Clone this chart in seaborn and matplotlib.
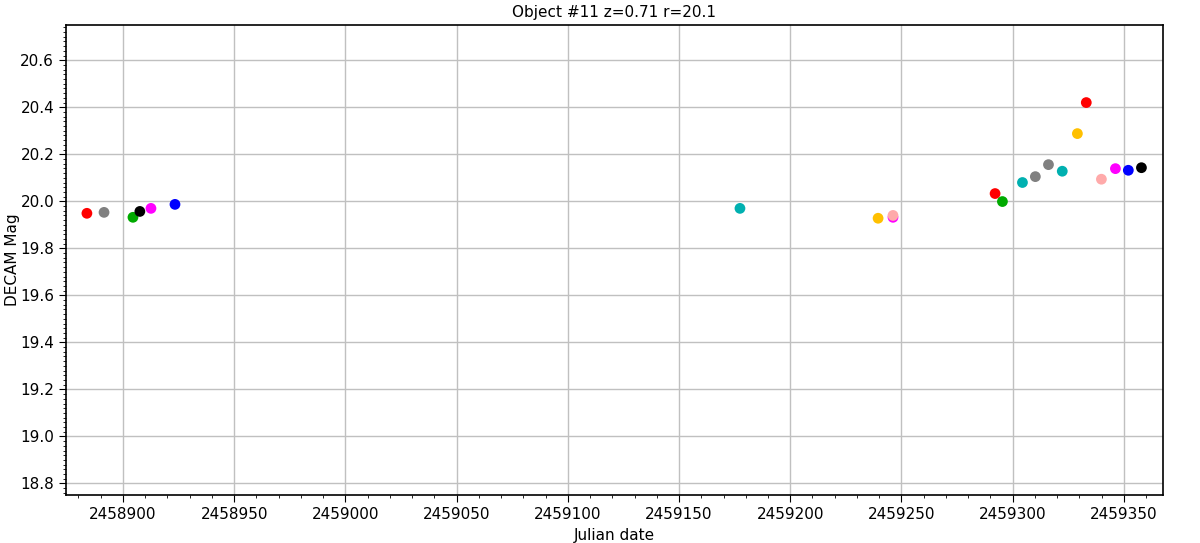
import numpy as np
import pandas as pd
import matplotlib
matplotlib.use("Agg")
import matplotlib.pyplot as plt
from matplotlib.ticker import MultipleLocator
import seaborn as sns

# Fechas julianas y magnitudes
jd = [2458883.8, 2458891.5, 2458904.5, 2458907.6, 2458912.6, 2458923.4,
      2459177.4, 2459239.5, 2459246.2, 2459246.2,
      2459292.1, 2459295.4, 2459304.4, 2459310.2, 2459316.1, 2459322.3,
      2459329.1, 2459333.1, 2459339.9, 2459346.2, 2459352.0, 2459357.9]
mag = [19.949, 19.953, 19.932, 19.957, 19.970, 19.987,
       19.970, 19.928, 19.932, 19.940,
       20.033, 19.999, 20.080, 20.105, 20.156, 20.128,
       20.288, 20.420, 20.094, 20.139, 20.132, 20.143]
band = ["red", "gray", "green", "black", "magenta", "blue",
        "teal", "gold", "magenta", "pink",
        "red", "green", "teal", "gray", "gray", "teal",
        "gold", "red", "pink", "magenta", "blue", "black"]

palette = {"red": "#ff0000", "gray": "#808080", "green": "#00aa00",
           "black": "#000000", "magenta": "#ff00ff", "blue": "#0000ff",
           "teal": "#00b0b0", "gold": "#ffc000", "pink": "#ffaaaa"}

df = pd.DataFrame({"jd": jd, "mag": mag, "band": band})

sns.set_style("white")
plt.rcParams["font.family"] = ["DejaVu Sans"]
plt.rcParams["text.color"] = "black"
plt.rcParams["axes.labelcolor"] = "black"
plt.rcParams["xtick.color"] = "black"
plt.rcParams["ytick.color"] = "black"

fig, ax = plt.subplots(figsize=(12, 5.43), dpi=100)
ax.grid(True, color="#c0c0c0", linewidth=1)
ax.set_axisbelow(True)
sns.scatterplot(data=df, x="jd", y="mag", hue="band", palette=palette,
                s=60, edgecolor="none", legend=False, ax=ax, zorder=3)

ax.set_xlim(2458874.4, 2459367.5)
ax.set_ylim(18.75, 20.75)
ax.xaxis.set_major_locator(MultipleLocator(50))
ax.xaxis.set_minor_locator(MultipleLocator(10))
ax.yaxis.set_major_locator(MultipleLocator(0.2))
ax.yaxis.set_minor_locator(MultipleLocator(0.02))
ax.ticklabel_format(axis="x", useOffset=False, style="plain")
ax.tick_params(which="both", direction="out", bottom=True, left=True,
               labelsize=11, colors="black")
ax.tick_params(which="major", length=5)
ax.tick_params(which="minor", length=2.5)
for sp in ax.spines.values():
    sp.set_color("black")
    sp.set_linewidth(1.2)

ax.set_xlabel("Julian date", fontsize=11, color="black")
ax.set_ylabel("DECAM Mag", fontsize=11, color="black")
ax.yaxis.set_label_coords(-0.042, 0.5)
ax.set_title("Object #11 z=0.71 r=20.1", fontsize=11, color="black")

fig.subplots_adjust(left=0.055, right=0.969, top=0.954, bottom=0.088)
fig.savefig("out.png", dpi=100)
